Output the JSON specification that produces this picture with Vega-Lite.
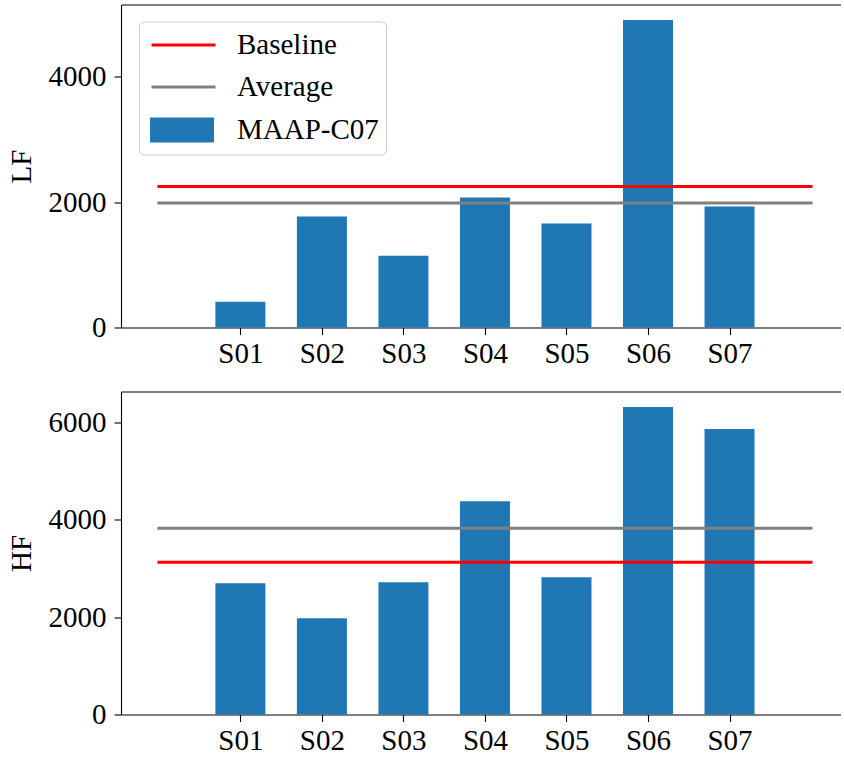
{
  "$schema": "https://vega.github.io/schema/vega-lite/v6.json",
  "padding": {"left": 7, "top": 4.5, "right": 0, "bottom": 0},
  "background": "white",
  "config": {
    "font": "Liberation Serif",
    "view": {"stroke": null},
    "axis": {
      "grid": false,
      "domainColor": "black",
      "domainWidth": 1.1,
      "tickColor": "black",
      "tickWidth": 1.1,
      "tickSize": 7,
      "labelFontSize": 29,
      "labelColor": "black",
      "labelPadding": 8,
      "titleFontSize": 29,
      "titleFontWeight": "normal",
      "titleColor": "black",
      "titlePadding": 12
    },
    "axisBottom": {"labelPadding": 5}
  },
  "datasets": {
    "subjects": [
      {"subject": "S01", "n": 1, "LF": 411, "HF": 2695},
      {"subject": "S02", "n": 2, "LF": 1771, "HF": 1975},
      {"subject": "S03", "n": 3, "LF": 1147, "HF": 2716},
      {"subject": "S04", "n": 4, "LF": 2075, "HF": 4383},
      {"subject": "S05", "n": 5, "LF": 1659, "HF": 2819},
      {"subject": "S06", "n": 6, "LF": 4907, "HF": 6317},
      {"subject": "S07", "n": 7, "LF": 1931, "HF": 5864}
    ],
    "refs": [
      {"band": "LF", "series": "Baseline", "value": 2251},
      {"band": "LF", "series": "Average", "value": 1986},
      {"band": "HF", "series": "Baseline", "value": 3128},
      {"band": "HF", "series": "Average", "value": 3824}
    ]
  },
  "spacing": 23,
  "vconcat": [
    {
      "width": 720,
      "height": 323,
      "layer": [
        {
          "data": {"name": "subjects"},
          "mark": {"type": "bar", "size": 50},
          "encoding": {
            "x": {
              "field": "n", "type": "quantitative",
              "scale": {"domain": [-0.403, 8.306], "nice": false, "zero": false},
              "axis": {"orient": "bottom", "values": [1, 2, 3, 4, 5, 6, 7], "labelExpr": "'S0' + datum.value", "title": null}
            },
            "y": {
              "field": "LF", "type": "quantitative",
              "scale": {"domain": [0, 5155], "nice": false},
              "axis": {"values": [0, 2000, 4000], "format": "d", "title": "LF"}
            },
            "color": {
              "datum": "MAAP-C07", "type": "nominal", "title": null,
              "scale": {"domain": ["Baseline", "Average", "MAAP-C07"], "range": ["#ff0000", "#808080", "#1f77b4"]},
              "legend": {
                "orient": "none", "legendX": 18, "legendY": 17,
                "title": null,
                "padding": 7,
                "fillColor": "rgba(255,255,255,0.8)",
                "strokeColor": "#cccccc",
                "cornerRadius": 5,
                "labelFontSize": 29,
                "labelColor": "black",
                "labelOffset": 58,
                "symbolSize": 900,
                "rowPadding": 10,
                "symbolStrokeWidth": 3,
                "encode": {
                  "symbols": {
                    "update": {
                      "shape": {"signal": "datum.value === 'MAAP-C07' ? 'M-0.733,-0.73H3.333V0.73H-0.733Z' : 'M-0.733,0H3.533'"},
                      "fill": {"signal": "datum.value === 'MAAP-C07' ? '#1f77b4' : 'transparent'"},
                      "stroke": {"signal": "datum.value === 'Baseline' ? '#ff0000' : datum.value === 'Average' ? '#808080' : 'transparent'"},
                      "strokeWidth": {"value": 3},
                      "opacity": {"value": 1}
                    }
                  }
                }
              }
            }
          }
        },
        {
          "data": {"name": "refs"},
          "transform": [{"filter": "datum.band === 'LF'"}],
          "mark": {"type": "rule", "strokeWidth": 3, "strokeCap": "square"},
          "encoding": {
            "x": {
              "datum": 0, "type": "quantitative",
              "scale": {"domain": [-0.403, 8.306], "nice": false, "zero": false},
              "axis": {"orient": "top", "labels": false, "ticks": false, "title": null}
            },
            "x2": {"datum": 8},
            "y": {"field": "value", "type": "quantitative", "axis": {"values": [0, 2000, 4000], "format": "d", "title": "LF"}},
            "color": {"field": "series", "type": "nominal", "title": null}
          }
        }
      ],
      "resolve": {"axis": {"x": "independent"}}
    },
    {
      "width": 720,
      "height": 323,
      "layer": [
        {
          "data": {"name": "subjects"},
          "mark": {"type": "bar", "size": 50, "color": "#1f77b4"},
          "encoding": {
            "x": {
              "field": "n", "type": "quantitative",
              "scale": {"domain": [-0.403, 8.306], "nice": false, "zero": false},
              "axis": {"orient": "bottom", "values": [1, 2, 3, 4, 5, 6, 7], "labelExpr": "'S0' + datum.value", "title": null}
            },
            "y": {
              "field": "HF", "type": "quantitative",
              "scale": {"domain": [0, 6635], "nice": false},
              "axis": {"values": [0, 2000, 4000, 6000], "format": "d", "title": "HF"}
            }
          }
        },
        {
          "data": {"name": "refs"},
          "transform": [{"filter": "datum.band === 'HF'"}],
          "mark": {"type": "rule", "strokeWidth": 3, "strokeCap": "square"},
          "encoding": {
            "x": {
              "datum": 0, "type": "quantitative",
              "scale": {"domain": [-0.403, 8.306], "nice": false, "zero": false},
              "axis": {"orient": "top", "labels": false, "ticks": false, "title": null}
            },
            "x2": {"datum": 8},
            "y": {"field": "value", "type": "quantitative", "axis": {"values": [0, 2000, 4000, 6000], "format": "d", "title": "HF"}},
            "color": {
              "field": "series", "type": "nominal",
              "scale": {"domain": ["Baseline", "Average"], "range": ["#ff0000", "#808080"]},
              "legend": null
            }
          }
        }
      ],
      "resolve": {"axis": {"x": "independent"}, "scale": {"color": "independent"}}
    }
  ],
  "resolve": {"scale": {"color": "independent"}}
}
